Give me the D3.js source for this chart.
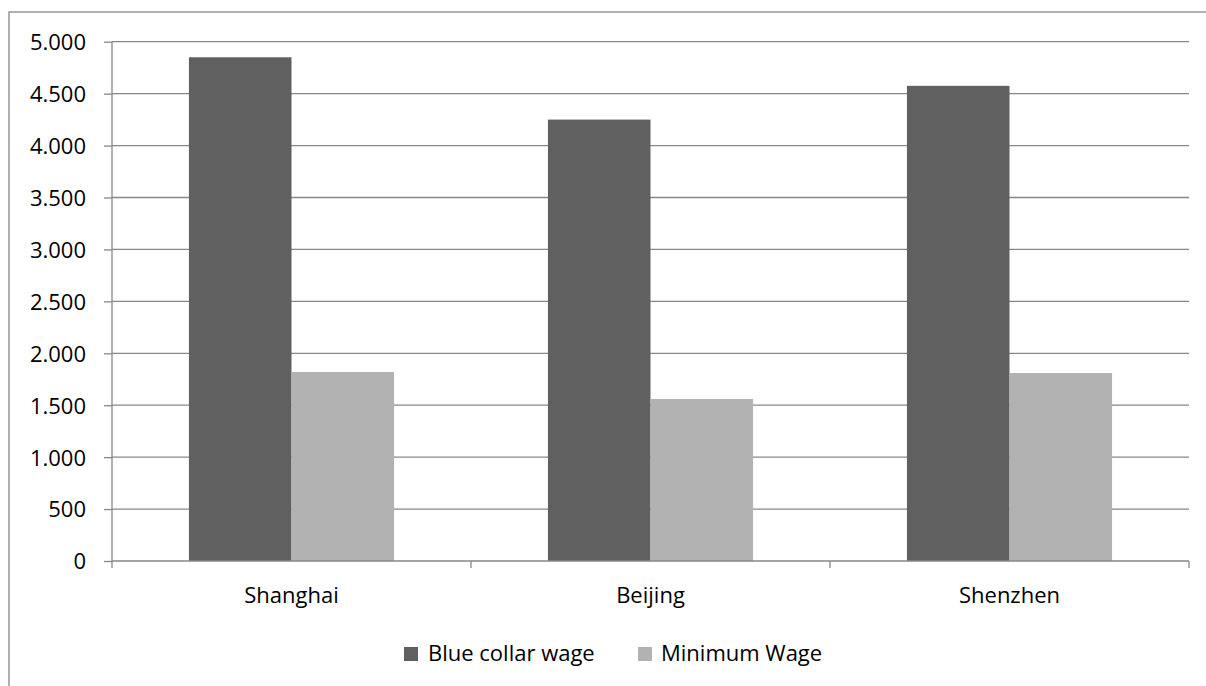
<!DOCTYPE html>
<html>
<head>
<meta charset="utf-8">
<script src="https://cdn.jsdelivr.net/npm/d3@7"></script>
<style>
    body { margin: 0; background: #ffffff; }
    text { font-family: 'Open Sans', sans-serif; fill: #000000; }
</style>
</head>
<body>
<div id="chart"></div>
<script>
// data
var cities = [ 'Shanghai', 'Beijing', 'Shenzhen' ];
var seriesNames = [ 'Blue collar wage', 'Minimum Wage' ];
var blueCollarWage = [ 4850, 4250, 4575 ];
var minimumWage = [ 1820, 1560, 1810 ];
var yTicks = [ 0, 500, 1000, 1500, 2000, 2500, 3000, 3500, 4000, 4500, 5000 ];

// namespace
var wages = {};

wages.colors = [ '#606060', '#b2b2b2' ];
wages.lineColor = '#878787';

// number format with dot as thousands separator
wages.format = d3.formatLocale( {
    decimal: ',',
    thousands: '.',
    grouping: [ 3 ],
    currency: [ '', '' ]
} ).format( ',d' );

// render
wages.render = function( root ) {
    var width = 1206;
    var height = 686;

    var plot = {
        left: 112,
        right: 1189,
        top: 41.7,
        bottom: 561
    };

    var svg = d3.select( root )
                .append( 'svg' )
                .attr( 'width', width )
                .attr( 'height', height );

    // chart border, runs off the right and bottom edge
    svg.append( 'rect' )
       .attr( 'x', 9 )
       .attr( 'y', 12 )
       .attr( 'width', width + 20 )
       .attr( 'height', height + 20 )
       .attr( 'fill', 'none' )
       .attr( 'stroke', wages.lineColor )
       .attr( 'stroke-width', 1.3 );

    var x0 = d3.scaleBand()
               .domain( cities )
               .range( [ plot.left, plot.right ] );

    var x1 = d3.scaleBand()
               .domain( seriesNames )
               .range( [ 0, x0.bandwidth() ] )
               .paddingInner( 0 )
               .paddingOuter( 0.75 );

    var y = d3.scaleLinear()
              .domain( [ 0, 5000 ] )
              .range( [ plot.bottom, plot.top ] );

    var data = wages.createData();

    wages.drawGrid( svg, y, plot );
    wages.drawBars( svg, data, x0, x1, y );
    wages.drawYAxis( svg, y, plot );
    wages.drawXAxis( svg, x0, plot );
    wages.drawLegend( svg );
}

// create data
wages.createData = function() {
    var array = [];
    cities.forEach( function( city, i ) {
        array.push( { city: city, series: seriesNames[ 0 ], value: blueCollarWage[ i ], color: wages.colors[ 0 ] } );
        array.push( { city: city, series: seriesNames[ 1 ], value: minimumWage[ i ], color: wages.colors[ 1 ] } );
    } );
    return array;
}

// draw grid
wages.drawGrid = function( svg, y, plot ) {
    svg.append( 'g' )
       .selectAll( 'line' )
       .data( yTicks.filter( function( d ) { return d > 0; } ) )
       .enter()
       .append( 'line' )
       .attr( 'x1', plot.left )
       .attr( 'x2', plot.right )
       .attr( 'y1', function( d ) { return y( d ); } )
       .attr( 'y2', function( d ) { return y( d ); } )
       .attr( 'stroke', wages.lineColor )
       .attr( 'stroke-width', 1.3 );
}

// draw bars
wages.drawBars = function( svg, data, x0, x1, y ) {
    svg.append( 'g' )
       .selectAll( 'rect' )
       .data( data )
       .enter()
       .append( 'rect' )
       .attr( 'x', function( d ) { return x0( d.city ) + x1( d.series ); } )
       .attr( 'y', function( d ) { return y( d.value ); } )
       .attr( 'width', x1.bandwidth() )
       .attr( 'height', function( d ) { return y( 0 ) - y( d.value ); } )
       .attr( 'fill', function( d ) { return d.color; } );
}

// draw y axis
wages.drawYAxis = function( svg, y, plot ) {
    var axis = d3.axisLeft( y )
                 .tickValues( yTicks )
                 .tickSize( 8 )
                 .tickPadding( 18 )
                 .tickFormat( wages.format );

    var g = svg.append( 'g' )
               .attr( 'transform', 'translate(' + plot.left + ',0)' )
               .call( axis );

    g.select( '.domain' )
     .attr( 'd', 'M0,' + plot.top + 'V' + plot.bottom )
     .attr( 'stroke', wages.lineColor )
     .attr( 'stroke-width', 1.3 );
    g.selectAll( '.tick line' )
     .attr( 'stroke', wages.lineColor )
     .attr( 'stroke-width', 1.3 );
    g.selectAll( '.tick text' )
     .attr( 'font-size', 22 )
     .attr( 'font-family', "'Open Sans', sans-serif" )
     .attr( 'fill', '#000000' )
     .attr( 'dy', '0.36em' );
}

// draw x axis
wages.drawXAxis = function( svg, x0, plot ) {
    var g = svg.append( 'g' );

    // axis line and boundary ticks between categories
    var edges = cities.map( function( c ) { return x0( c ); } ).concat( [ plot.right ] );
    g.append( 'line' )
     .attr( 'x1', plot.left )
     .attr( 'x2', plot.right )
     .attr( 'y1', plot.bottom )
     .attr( 'y2', plot.bottom )
     .attr( 'stroke', wages.lineColor )
     .attr( 'stroke-width', 1.3 );

    g.selectAll( '.edge' )
     .data( edges )
     .enter()
     .append( 'line' )
     .attr( 'x1', function( d ) { return d; } )
     .attr( 'x2', function( d ) { return d; } )
     .attr( 'y1', plot.bottom )
     .attr( 'y2', plot.bottom + 7 )
     .attr( 'stroke', wages.lineColor )
     .attr( 'stroke-width', 1.3 );

    g.selectAll( 'text' )
     .data( cities )
     .enter()
     .append( 'text' )
     .attr( 'x', function( d ) { return x0( d ) + x0.bandwidth() / 2; } )
     .attr( 'y', 603 )
     .attr( 'text-anchor', 'middle' )
     .attr( 'font-size', 22 )
     .text( function( d ) { return d; } );
}

// draw legend
wages.drawLegend = function( svg ) {
    var items = [
        { x: 404, textX: 428 },
        { x: 638, textX: 661 }
    ];

    var g = svg.append( 'g' );
    seriesNames.forEach( function( name, i ) {
        g.append( 'rect' )
         .attr( 'x', items[ i ].x )
         .attr( 'y', 647 )
         .attr( 'width', 14 )
         .attr( 'height', 14 )
         .attr( 'fill', wages.colors[ i ] );

        g.append( 'text' )
         .attr( 'x', items[ i ].textX )
         .attr( 'y', 661 )
         .attr( 'font-size', 22 )
         .text( name );
    } );
}

wages.render( '#chart' );
</script>
</body>
</html>
